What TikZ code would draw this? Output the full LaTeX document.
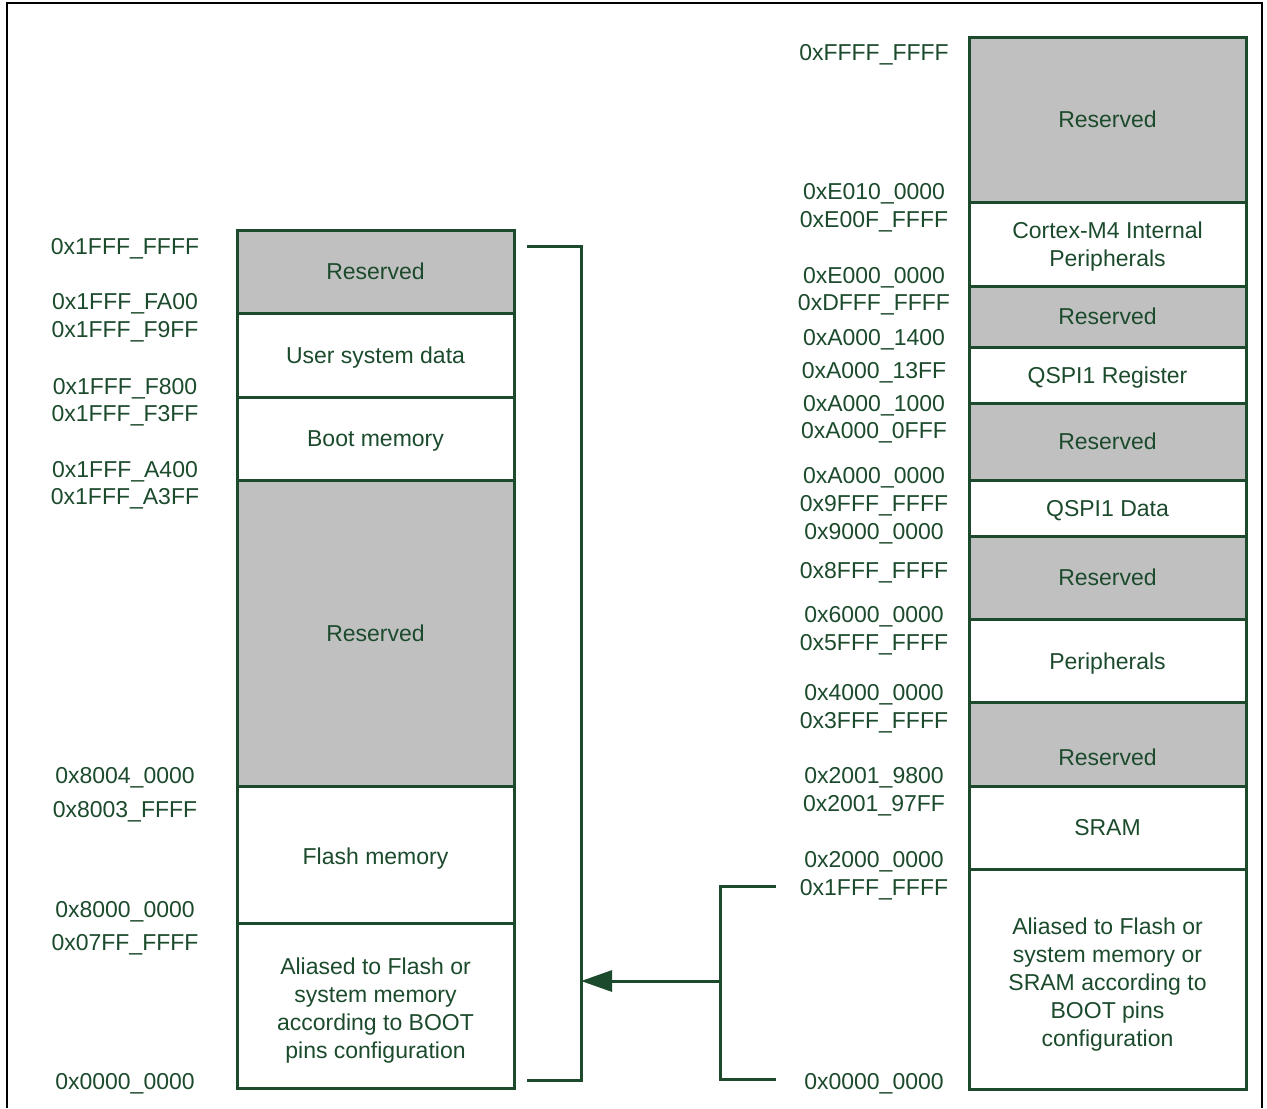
\documentclass[tikz,border=0pt]{standalone}
\usepackage{fontspec}
\newfontfamily\memfont{Liberation Sans}
\definecolor{memgreen}{RGB}{28,74,44}
\definecolor{memgray}{RGB}{192,192,192}
\usetikzlibrary{arrows.meta}

\begin{document}
\begin{tikzpicture}[x = 0.5pt, y = -0.5pt,
	every node/.style = {text = memgreen, font = \memfont\fontsize{11.5}{14.1}\selectfont, align = center, inner sep = 0pt},
	low/.style = {yshift = -1.3pt},
	cell/.style = {draw = memgreen, line width = 1.5pt},
	gap/.style = {cell, fill = memgray},
	link/.style = {draw = memgreen, line width = 1.5pt}]
	\useasboundingbox (0,0) rectangle (1267,1108);
	\draw[line width = 1pt] (7,1108) -- (7,3) -- (1262,3) -- (1262,1108);

	% left map
	\draw[gap]  (237,230) rectangle (514,313) node[midway](LRes1){Reserved};
	\draw[cell] (237,313) rectangle (514,397) node[midway, low](LUser){User system data};
	\draw[cell] (237,397) rectangle (514,480) node[midway, low](LBoot){Boot memory};
	\draw[gap]  (237,480) rectangle (514,786) node[midway](LRes2){Reserved};
	\draw[cell] (237,786) rectangle (514,923);
	\draw[cell] (237,923) rectangle (514,1088);
	\node[low] (LFlash) at (375.5,856) {Flash memory};
	\node[low] (LAlias) at (375.5,1008) {Aliased to Flash or\\system memory\\according to BOOT\\pins configuration};

	\node[low] (la1) at (125,246) {0x1FFF\_FFFF};
	\node[low] (la2) at (125,301) {0x1FFF\_FA00};
	\node[low] (la3) at (125,329) {0x1FFF\_F9FF};
	\node[low] (la4) at (125,386) {0x1FFF\_F800};
	\node[low] (la5) at (125,413) {0x1FFF\_F3FF};
	\node[low] (la6) at (125,469) {0x1FFF\_A400};
	\node[low] (la7) at (125,496) {0x1FFF\_A3FF};
	\node[low] (la8) at (125,775) {0x8004\_0000};
	\node[low] (la9) at (125,809) {0x8003\_FFFF};
	\node[low] (la10) at (125,909) {0x8000\_0000};
	\node[low] (la11) at (125,942) {0x07FF\_FFFF};
	\node[low] (la12) at (125,1081) {0x0000\_0000};

	% right map
	\draw[gap]  (969,37) rectangle (1246,202) node[midway](RRes1){Reserved};
	\draw[cell] (969,202) rectangle (1246,286) node[midway, low](RCore){Cortex-M4 Internal\\Peripherals};
	\draw[gap]  (969,286) rectangle (1246,347) node[midway](RRes2){Reserved};
	\draw[cell] (969,347) rectangle (1246,403) node[midway, low](RQReg){QSPI1 Register};
	\draw[gap]  (969,403) rectangle (1246,480) node[midway](RRes3){Reserved};
	\draw[cell] (969,480) rectangle (1246,536) node[midway, low](RQData){QSPI1 Data};
	\draw[gap]  (969,536) rectangle (1246,619) node[midway](RRes4){Reserved};
	\draw[cell] (969,619) rectangle (1246,702) node[midway, low](RPeri){Peripherals};
	\draw[gap]  (969,702) rectangle (1246,786);
	\draw[cell] (969,786) rectangle (1246,869) node[midway](RSram){SRAM};
	\draw[cell] (969,869) rectangle (1246,1089);
	\node (RRes5) at (1107.5,757) {Reserved};
	\node[low] (RAlias) at (1107.5,982) {Aliased to Flash or\\system memory or\\SRAM according to\\BOOT pins\\configuration};

	\node[low] (ra1) at (874,52) {0xFFFF\_FFFF};
	\node[low] (ra2) at (874,191) {0xE010\_0000};
	\node[low] (ra3) at (874,219) {0xE00F\_FFFF};
	\node[low] (ra4) at (874,275) {0xE000\_0000};
	\node[low] (ra5) at (874,302) {0xDFFF\_FFFF};
	\node[low] (ra6) at (874,337) {0xA000\_1400};
	\node[low] (ra7) at (874,370) {0xA000\_13FF};
	\node[low] (ra8) at (874,403) {0xA000\_1000};
	\node[low] (ra9) at (874,430) {0xA000\_0FFF};
	\node[low] (ra10) at (874,475) {0xA000\_0000};
	\node[low] (ra11) at (874,503) {0x9FFF\_FFFF};
	\node[low] (ra12) at (874,531) {0x9000\_0000};
	\node[low] (ra13) at (874,570) {0x8FFF\_FFFF};
	\node[low] (ra14) at (874,614) {0x6000\_0000};
	\node[low] (ra15) at (874,642) {0x5FFF\_FFFF};
	\node[low] (ra16) at (874,692) {0x4000\_0000};
	\node[low] (ra17) at (874,720) {0x3FFF\_FFFF};
	\node[low] (ra18) at (874,775) {0x2001\_9800};
	\node[low] (ra19) at (874,803) {0x2001\_97FF};
	\node[low] (ra20) at (874,859) {0x2000\_0000};
	\node[low] (ra21) at (874,887) {0x1FFF\_FFFF};
	\node[low] (ra22) at (874,1081) {0x0000\_0000};

	% brackets and alias arrow
	\coordinate (LTop) at (527,246);
	\coordinate (LBot) at (527,1080);
	\coordinate (LMid) at (581,981);
	\coordinate (RTop) at (776,886);
	\coordinate (RBot) at (776,1079);
	\coordinate (RMid) at (720,981);
	\draw[link] (LTop) -- ++(54,0) |- (LBot);
	\draw[link] (RTop) -- ++(-56,0) |- (RBot);
	\draw[link, -{Triangle[length = 15.5pt, width = 10.5pt]}] (RMid) -- (LMid);
\end{tikzpicture}
\end{document}
